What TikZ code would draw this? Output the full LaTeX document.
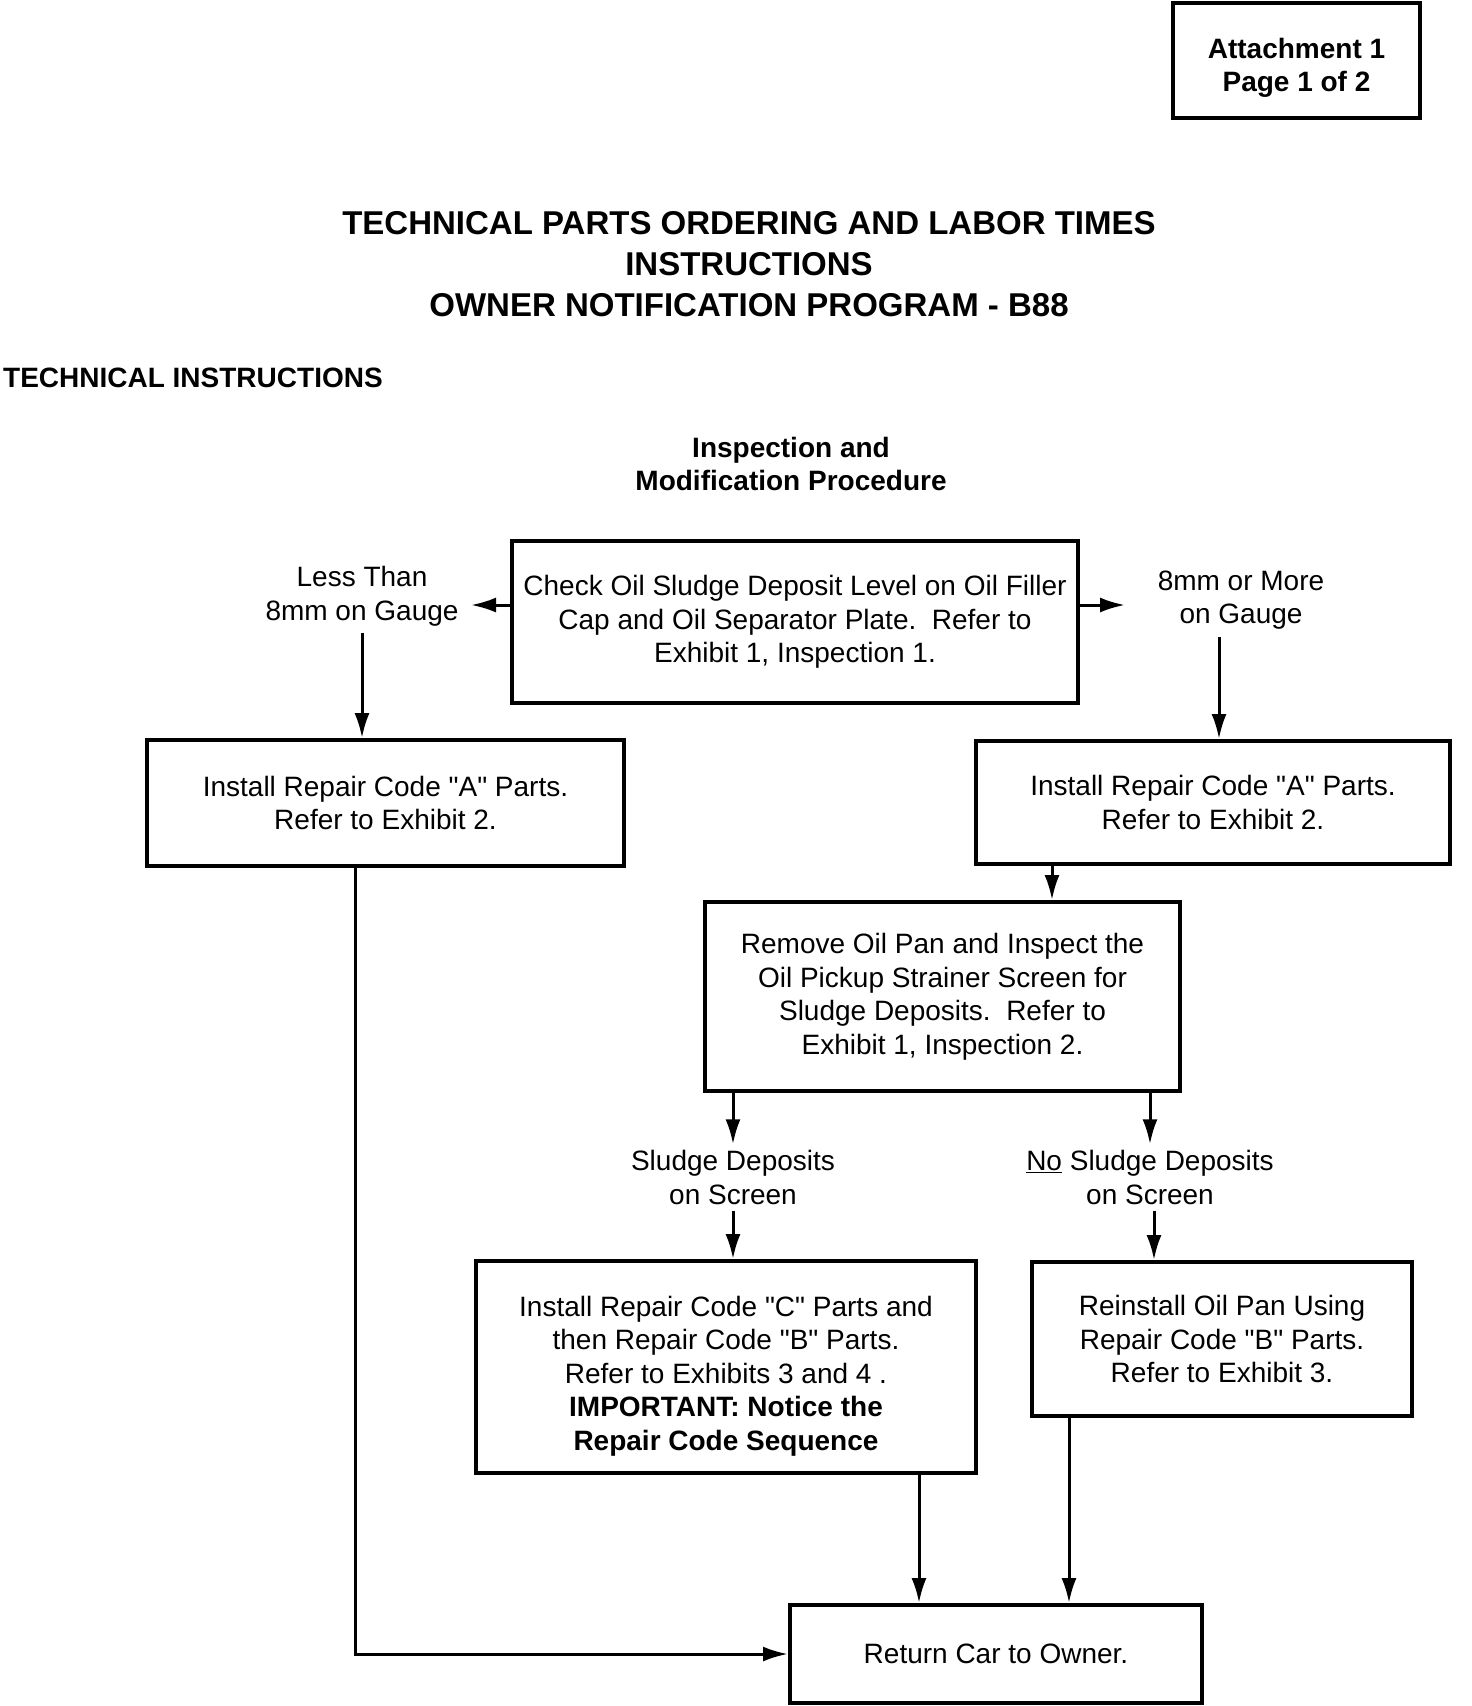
\documentclass[tikz,border=0pt]{standalone}
\usepackage{fontspec}
\setmainfont{Liberation Sans}[Ligatures=TeXOff]
\usetikzlibrary{arrows.meta}

\tikzset{
  txt/.style={font=\fontsize{28}{33.5}\selectfont},
  bftxt/.style={font=\bfseries\fontsize{28}{33}\selectfont},
  box/.style={draw,line width=4pt,align=center,inner sep=0pt,txt},
  lbl/.style={align=center,inner sep=6pt,txt},
  arr/.style={line width=3pt,-{Latex[length=25pt,width=15pt]}}
}

\begin{document}
\begin{tikzpicture}[x=1pt,y=-1pt]
\useasboundingbox (0,0) rectangle (1472,1706);

% heading
\node[box,bftxt,minimum width=247pt,minimum height=115pt] (attach) at (1296.5,60.5) {\rule{0pt}{34pt}Attachment 1\\Page 1 of 2};
\node[align=center,font=\bfseries\fontsize{33}{41}\selectfont] (title) at (749,264)
  {TECHNICAL PARTS ORDERING AND LABOR TIMES\\INSTRUCTIONS\\OWNER NOTIFICATION PROGRAM - B88};
\node[bftxt,anchor=west,inner sep=0pt] (techinst) at (3,378) {TECHNICAL INSTRUCTIONS};
\node[bftxt,align=center] (proc) at (791,463.5) {Inspection and\\Modification Procedure};

% boxes
\node[box,minimum width=566pt,minimum height=162pt] (check) at (795,622)
  {Check Oil Sludge Deposit Level on Oil Filler\\Cap and Oil Separator Plate.\ \ Refer to\\Exhibit 1, Inspection 1.};
\node[box,minimum width=477pt,minimum height=126pt] (repA1) at (385.5,803) {Install Repair Code "A" Parts.\\Refer to Exhibit 2.};
\node[box,minimum width=474pt,minimum height=123pt] (repA2) at (1213,802.5) {Install Repair Code "A" Parts.\\Refer to Exhibit 2.};
\node[box,minimum width=475pt,minimum height=189pt] (remove) at (942.5,996.5)
  {Remove Oil Pan and Inspect the\\Oil Pickup Strainer Screen for\\Sludge Deposits.\ \ Refer to\\Exhibit 1, Inspection 2.};
\node[box,minimum width=500pt,minimum height=212pt] (repC) at (726,1367)
  {\rule{0pt}{38pt}Install Repair Code "C" Parts and\\then Repair Code "B" Parts.\\ Refer to Exhibits 3 and 4 .\\\textbf{IMPORTANT: Notice the}\\\textbf{Repair Code Sequence}};
\node[box,minimum width=380pt,minimum height=154pt] (reinst) at (1222,1339)
  {Reinstall Oil Pan Using\\Repair Code "B" Parts.\\Refer to Exhibit 3.};
\node[box,minimum width=412pt,minimum height=98pt] (ret) at (996,1654) {Return Car to Owner.};

% branch labels
\node[lbl] (less) at (362,596.5) {Less Than\\8mm on Gauge};
\node[lbl] (more) at (1241,600) {8mm or More\\on Gauge};
\node[lbl] (sludge) at (733,1177.5) {Sludge Deposits\\on Screen};
\node[lbl] (nosludge) at (1150,1177.5) {\underline{No} Sludge Deposits\\on Screen};

\coordinate (lessTip) at (471,605);
\coordinate (moreTip) at (1125,605);
\coordinate (moreOut) at (1219,637);
\coordinate (xA) at (1052,0);
\coordinate (xN) at (1154,0);
\coordinate (xC) at (919,0);
\coordinate (xR) at (1069,0);
\coordinate (xL) at (355,0);

% connectors
\draw[arr] (check.west |- lessTip) -- (lessTip);
\draw[arr] (check.east |- moreTip) -- (moreTip);
\draw[arr] (less.south) -- (less.south |- repA1.north);
\draw[arr] (moreOut) -- (moreOut |- repA2.north);
\draw[arr] (repA2.south -| xA) -- (remove.north -| xA);
\draw[arr] (remove.south -| sludge) -- (sludge.north);
\draw[arr] (remove.south -| nosludge) -- (nosludge.north);
\draw[arr] (sludge.south) -- (sludge.south |- repC.north);
\draw[arr] (nosludge.south -| xN) -- (reinst.north -| xN);
\draw[arr] (repC.south -| xC) -- (ret.north -| xC);
\draw[arr] (reinst.south -| xR) -- (ret.north -| xR);
\draw[arr] (repA1.south -| xL) |- (ret.west);
\end{tikzpicture}
\end{document}
